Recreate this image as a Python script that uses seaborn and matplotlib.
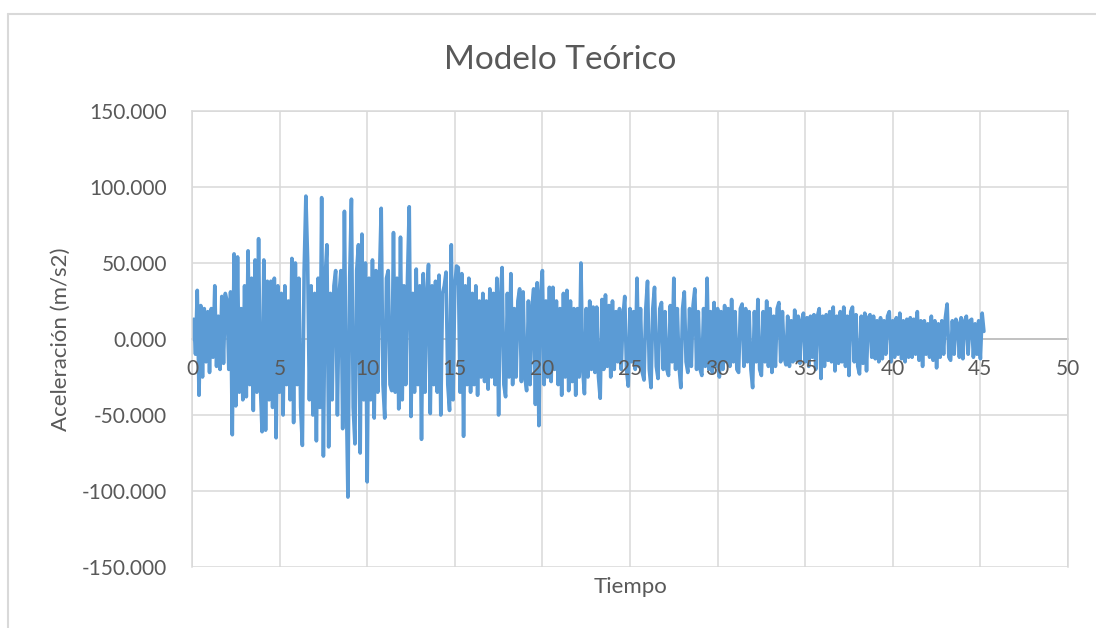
import numpy as np
import pandas as pd
import matplotlib
matplotlib.use("Agg")
import matplotlib.pyplot as plt
import seaborn as sns
from matplotlib.lines import Line2D

# Registro de aceleración, un valor cada 0.1 s (una fila = 1 s)
dt = 0.1
acc_00_09 = [
    0, 13, -10, 32, -37, 22, -25, 20, -15, 18,
    -22, 20, -12, 35, -18, 15, -20, 28, -16, 30,
    25, -20, 31, -63, 56, -44, 54, -35, 20, -40,
    35, -38, 58, -30, 40, -47, 52, -35, 66, -30,
    -61, 52, -60, 38, -40, 38, -45, 40, -65, 35,
    -35, 30, -50, 35, -30, 25, -40, 53, -55, 50,
    -30, 40, -45, -70, 45, 94, 52, -40, 35, -50,
    30, -67, 40, -45, 93, -77, 40, 62, -71, 30,
    -40, 35, 45, -50, 30, 45, -59, 84, -30, -104,
    40, 92, -45, -69, 45, 62, -75, 69, -40, 50,
]
acc_10_19 = [
    -94, 40, -40, 52, -52, 45, -35, 40, 86, -30,
    -52, 40, 45, -30, -34, 70, -35, 40, -46, 67,
    -40, 35, -30, 40, 87, -51, 30, -35, 46, -30,
    35, -66, 43, -35, 30, 49, -49, 35, -30, 38,
    -35, 42, -50, 30, 35, 44, -30, -47, 62, -40,
    35, 48, 47, -35, 43, -64, 35, -30, 40, -35,
    30, -30, 35, -37, 25, -25, 30, -28, 25, -33,
    33, -25, 30, -30, 40, -50, 25, 47, -30, -38,
    30, -25, 43, -30, 20, -25, 25, 33, -28, 31,
    -25, -34, 25, -30, 20, 33, -43, 37, -57, 30,
]
acc_20_29 = [
    45, -30, 25, -25, 34, -28, 34, -20, 25, -30,
    20, -37, 30, -25, 32, -34, 25, -28, 20, -37,
    20, -25, 50, -20, -36, 20, -25, 25, -20, 21,
    -22, 21, -25, -39, 26, -20, 29, -18, 22, -25,
    25, -20, 18, -15, 20, -20, 15, 28, -20, -31,
    20, -15, 18, -20, 40, -18, 20, -22, -27, 20,
    38, -20, -32, 20, 34, -18, -26, 20, 24, -20,
    18, -20, -24, 22, -15, 40, -20, 20, -18, -32,
    20, 31, -15, -22, 20, -18, 22, 33, -20, 18,
    -20, -24, 20, -18, 40, -20, 18, -22, 24, -18,
]
acc_30_39 = [
    20, -25, 18, -20, 22, -15, 20, -18, 26, -15,
    18, -20, -22, 20, 23, -18, 20, -15, 18, -20,
    -32, 18, -15, 26, -20, -24, 18, -15, 25, -18,
    20, -22, 15, -18, 20, 24, -15, 18, -12, -17,
    15, -18, 12, -15, 19, -14, 15, -16, 12, 17,
    -15, 14, -18, 15, -12, 16, -20, 15, 20, -26,
    15, -18, 16, -14, 18, -15, 21, -21, 15, -16,
    18, -15, 21, -18, 15, -24, 18, 21, -15, 16,
    -18, -23, 15, -16, 17, -21, 14, 16, -12, 15,
    -13, 12, -15, 14, -13, 12, -10, 15, 18, -15,
]
acc_40_45 = [
    12, -12, 14, -10, 17, -13, 12, -15, 13, -12,
    14, -12, 13, -10, 18, -14, 12, -18, 12, -10,
    10, -12, 15, -14, 12, -19, 10, -12, 12, -10,
    14, 23, -12, -14, 12, -10, 13, 10, -12, 14,
    -13, 12, 15, -10, 12, 13, -12, 10, -10, 12,
    -13, 17, 5,
]

acc = acc_00_09 + acc_10_19 + acc_20_29 + acc_30_39 + acc_40_45
df = pd.DataFrame({"tiempo": np.round(np.arange(len(acc)) * dt, 2), "aceleracion": acc})

y_ticks = [-150, -100, -50, 0, 50, 100, 150]
x_ticks = [0, 5, 10, 15, 20, 25, 30, 35, 40, 45, 50]

sns.set_style("white")
plt.rcParams["font.family"] = ["Lato", "DejaVu Sans"]

fig = plt.figure(figsize=(10.96, 6.28), dpi=100)
ax = fig.add_axes([192 / 1096, 1 - 567 / 628, 876 / 1096, 456 / 628])

sns.lineplot(data=df, x="tiempo", y="aceleracion", ax=ax, color="#5B9BD5",
             linewidth=2.6, sort=False, estimator=None, zorder=2)

ax.set_xlim(0, 50)
ax.set_ylim(-150, 150)
ax.set_xticks(x_ticks)
ax.set_yticks(y_ticks)
ax.set_yticklabels([f"{v:.3f}" for v in y_ticks])
ax.set_xticklabels([])
ax.grid(True, color="#d9d9d9", linewidth=1.1)
ax.set_axisbelow(True)
ax.tick_params(axis="both", length=0, labelsize=15, colors="#595959")
ax.tick_params(axis="y", pad=18)
for s in ["top", "right", "left"]:
    ax.spines[s].set_color("#d9d9d9")
    ax.spines[s].set_linewidth(1.1)
ax.spines["bottom"].set_position(("data", 0))
ax.spines["bottom"].set_color("#bfbfbf")
ax.spines["bottom"].set_linewidth(1.3)
ax.spines["bottom"].set_zorder(1)
ax.set_xlabel("")
ax.set_ylabel("")

# etiquetas del eje X encima de la serie, como en Excel
for v in x_ticks:
    ax.text(v, -20, str(v), ha="center", va="center", fontsize=15,
            color="#595959", zorder=5)

fig.text(560 / 1096, 1 - 60 / 628, "Modelo Teórico", ha="center", va="center",
         fontsize=24, color="#595959")
fig.text(630 / 1096, 1 - 587 / 628, "Tiempo", ha="center", va="center",
         fontsize=16, color="#595959")
fig.text(61 / 1096, 1 - 339 / 628, "Aceleración (m/s2)", ha="center", va="center",
         rotation=90, fontsize=16, color="#595959")

# marco del área del gráfico
fig.add_artist(Line2D([8 / 1096, 1], [1 - 14 / 628] * 2, color="#d9d9d9", linewidth=1.5))
fig.add_artist(Line2D([8 / 1096] * 2, [0, 1 - 14 / 628], color="#d9d9d9", linewidth=1.5))

fig.savefig("out.png", dpi=100)
